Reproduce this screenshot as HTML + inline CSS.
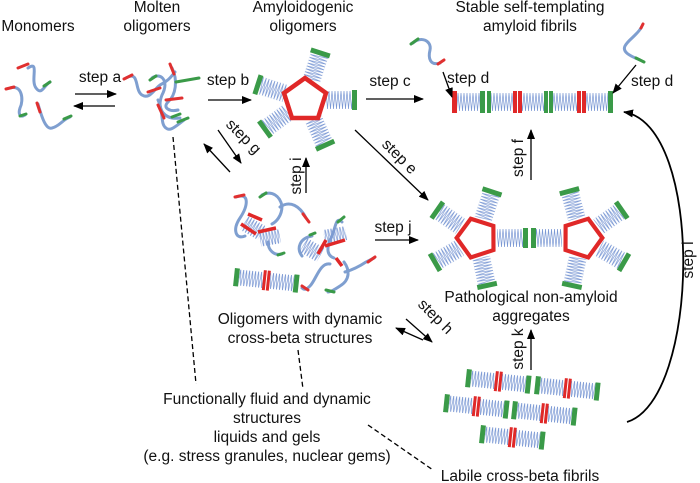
<!DOCTYPE html>
<html><head><meta charset="utf-8"><style>
html,body{margin:0;padding:0;background:#fff;}
svg{display:block}
text{font-family:"Liberation Sans",Arial,sans-serif;font-size:15.5px;fill:#111}
</style></head><body>
<svg width="700" height="483" viewBox="0 0 700 483" xmlns="http://www.w3.org/2000/svg">
<defs>
<pattern id="zz" width="3" height="18" patternUnits="userSpaceOnUse" y="-9">
<path d="M0,0 L1.5,18 L3,0" fill="none" stroke="#7a98d4" stroke-width="0.7"/>
</pattern>
<g id="arm"><rect x="0" y="-9" width="26" height="18" fill="url(#zz)"/><rect x="26" y="-10" width="5" height="20" fill="#3a9a48"/></g>
<g id="pent">
<polygon points="0,-22 21,-7 13,18 -13,18 -21,-7" fill="none" stroke="#e02828" stroke-width="4.5" stroke-linejoin="miter"/>
</g>
<g id="lab">
<rect x="0" y="-9" width="5" height="18" fill="#3a9a48"/>
<rect x="5" y="-8" width="24" height="16" fill="url(#zz)"/>
<rect x="29" y="-10" width="3" height="20" fill="#e02828"/>
<rect x="33" y="-10" width="3" height="20" fill="#e02828"/>
<rect x="36" y="-8" width="24" height="16" fill="url(#zz)"/>
<rect x="60" y="-9" width="5" height="18" fill="#3a9a48"/>
</g>
<marker id="ah" markerWidth="10" markerHeight="8" refX="9" refY="4" orient="auto" markerUnits="userSpaceOnUse">
<path d="M0,0 L10,4 L0,8 Z" fill="#000"/></marker>
</defs>

<!-- titles -->
<text x="38" y="31" text-anchor="middle">Monomers</text>
<text x="157" y="12" text-anchor="middle">Molten</text>
<text x="157" y="31" text-anchor="middle">oligomers</text>
<text x="303" y="12" text-anchor="middle">Amyloidogenic</text>
<text x="303" y="31" text-anchor="middle">oligomers</text>
<text x="530" y="12" text-anchor="middle">Stable self-templating</text>
<text x="530" y="31" text-anchor="middle">amyloid fibrils</text>

<!-- monomers -->
<g fill="none" stroke-width="3" stroke-linecap="round">
<path d="M28,68 C40,60 30,80 36,88 C42,96 44,85 50,82" stroke="#7f9fd0"/>
<path d="M18,68 L28,64" stroke="#e03030"/><path d="M44,86 L50,82" stroke="#3a9a48"/>
<path d="M10,88 C22,84 24,100 20,108 C18,114 20,118 25,115" stroke="#7f9fd0"/>
<path d="M6,89 L14,87" stroke="#e03030"/><path d="M20,116 L26,114" stroke="#3a9a48"/>
<path d="M38,104 C42,118 46,130 52,128 C60,126 62,120 70,117" stroke="#7f9fd0"/>
<path d="M37,103 L40,112" stroke="#e03030"/><path d="M64,119 L71,116" stroke="#3a9a48"/>
</g>
<!-- molten -->
<g fill="none" stroke-width="3" stroke-linecap="round">
<path d="M126,78 C140,70 134,90 142,95 C150,100 155,88 160,85 C170,80 172,75 175,72" stroke="#7f9fd0"/>
<path d="M124,79 L132,75" stroke="#e03030"/>
<path d="M152,78 C160,72 170,80 162,95 C156,110 165,120 180,118" stroke="#7f9fd0"/>
<path d="M150,80 L156,76" stroke="#3a9a48"/><path d="M172,117 L180,114" stroke="#3a9a48"/>
<path d="M172,68 C178,80 176,95 168,102 C162,108 170,112 178,110" stroke="#7f9fd0"/>
<path d="M170,64 L174,74" stroke="#e03030"/><path d="M176,82 L199,78" stroke="#3a9a48"/>
<path d="M158,100 C164,112 160,124 166,128 C170,132 176,126 184,120" stroke="#7f9fd0"/>
<path d="M148,92 L160,88" stroke="#e03030"/><path d="M166,100 L182,98" stroke="#e03030"/>
<path d="M158,105 L164,118" stroke="#e03030"/><path d="M178,122 L188,118" stroke="#3a9a48"/>
</g>

<!-- amyloidogenic pentamer -->
<g transform="translate(305,100)">
<use href="#arm" transform="rotate(-162) translate(21,0)"/>
<use href="#arm" transform="rotate(-72) translate(21,0)"/>
<use href="#arm" transform="rotate(0) translate(21,0)"/>
<use href="#arm" transform="rotate(66) translate(21,0)"/>
<use href="#arm" transform="rotate(144) translate(21,0)"/>
<use href="#pent"/>
</g>

<!-- stable fibril -->
<g transform="translate(452,102)">
<rect x="0" y="-11" width="5" height="22" fill="#e02828"/>
<rect x="5" y="-9" width="23" height="18" fill="url(#zz)"/>
<rect x="28" y="-11" width="5" height="22" fill="#3a9a48"/><rect x="35" y="-11" width="4" height="22" fill="#3a9a48"/>
<rect x="39" y="-9" width="22" height="18" fill="url(#zz)"/>
<rect x="61" y="-11" width="4" height="22" fill="#e02828"/><rect x="66" y="-11" width="4" height="22" fill="#e02828"/>
<rect x="70" y="-9" width="22" height="18" fill="url(#zz)"/>
<rect x="92" y="-11" width="4" height="22" fill="#3a9a48"/><rect x="97" y="-11" width="4" height="22" fill="#3a9a48"/>
<rect x="101" y="-9" width="24" height="18" fill="url(#zz)"/>
<rect x="125" y="-11" width="4" height="22" fill="#e02828"/><rect x="130" y="-11" width="4" height="22" fill="#e02828"/>
<rect x="134" y="-9" width="22" height="18" fill="url(#zz)"/>
<rect x="156" y="-11" width="5" height="22" fill="#3a9a48"/>
</g>
<g fill="none" stroke-width="3" stroke-linecap="round">
<path d="M413,43 C420,36 432,40 430,50 C428,58 430,66 440,63" stroke="#7f9fd0"/>
<path d="M411,44 L418,39" stroke="#3a9a48"/><path d="M438,64 L444,60" stroke="#e03030"/>
<path d="M641,28 C636,36 628,40 625,46 C622,52 630,56 640,60" stroke="#7f9fd0"/>
<path d="M641,28 L643,24" stroke="#e03030"/><path d="M636,58 L644,62" stroke="#3a9a48"/>
</g>

<!-- pathological aggregates -->
<g transform="translate(477,238)">
<use href="#arm" transform="rotate(-145) translate(20,0)"/>
<use href="#arm" transform="rotate(-72) translate(20,0)"/>
<use href="#arm" transform="rotate(0) translate(20,0)"/>
<use href="#arm" transform="rotate(78) translate(20,0)"/>
<use href="#arm" transform="rotate(150) translate(20,0)"/>
<use href="#pent" transform="rotate(-18) scale(0.92)"/>
</g>
<g transform="translate(582,238)">
<use href="#arm" transform="rotate(-35) translate(20,0)"/>
<use href="#arm" transform="rotate(-105) translate(20,0)"/>
<use href="#arm" transform="rotate(180) translate(20,0)"/>
<use href="#arm" transform="rotate(102) translate(20,0)"/>
<use href="#arm" transform="rotate(30) translate(20,0)"/>
<use href="#pent" transform="rotate(18) scale(0.92)"/>
</g>

<!-- labile fibrils -->
<use href="#lab" transform="translate(466,378) rotate(6)"/>
<use href="#lab" transform="translate(535,385) rotate(6)"/>
<use href="#lab" transform="translate(444,403) rotate(6)"/>
<use href="#lab" transform="translate(512,410) rotate(6)"/>
<use href="#lab" transform="translate(480,434) rotate(6)"/>

<!-- oligomers with dynamic cross-beta -->
<g fill="none" stroke-width="3" stroke-linecap="round">
<path d="M236,197 C250,192 248,206 240,218 C232,230 236,240 245,236" stroke="#7f9fd0"/>
<path d="M235,197 L244,195" stroke="#e03030"/>
<path d="M262,195 C272,190 280,196 282,206 C282,216 276,222 272,224" stroke="#7f9fd0"/>
<path d="M260,197 L266,193" stroke="#3a9a48"/>
<path d="M280,207 C290,200 300,206 306,218" stroke="#7f9fd0"/><path d="M303,214 L309,222" stroke="#e03030"/>
<path d="M268,242 C268,250 274,256 282,254" stroke="#7f9fd0"/><path d="M278,255 L284,253" stroke="#3a9a48"/>
<path d="M342,222 C335,215 336,230 330,240 C326,250 328,256 334,258" stroke="#7f9fd0"/><path d="M338,222 L344,217" stroke="#3a9a48"/>
<path d="M312,236 C300,238 296,248 302,256" stroke="#7f9fd0"/><path d="M310,235 L315,233" stroke="#3a9a48"/>
<path d="M330,264 C320,262 316,280 310,286 C306,290 304,290 302,288" stroke="#7f9fd0"/><path d="M302,286 L308,290" stroke="#e03030"/>
<path d="M344,262 C350,270 350,280 340,286 C334,290 330,292 328,292" stroke="#7f9fd0"/><path d="M326,290 L334,292" stroke="#3a9a48"/>
<path d="M345,272 C352,270 360,266 366,262 L374,258" stroke="#7f9fd0"/><path d="M368,262 L375,257" stroke="#e03030"/>
</g>
<g transform="translate(253,228) rotate(30)"><rect x="-10" y="-8" width="20" height="16" fill="url(#zz)"/></g>
<g transform="translate(270,238) rotate(-10)"><rect x="-10" y="-7" width="20" height="14" fill="url(#zz)"/></g>
<path d="M241,224 L256,234 M258,232 L276,228 M248,214 L262,220" stroke="#e02828" stroke-width="3.5"/>
<g transform="translate(312,250) rotate(30)"><rect x="-10" y="-8" width="20" height="16" fill="url(#zz)"/></g>
<g transform="translate(335,235) rotate(-10)"><rect x="-11" y="-7" width="22" height="14" fill="url(#zz)"/></g>
<path d="M318,254 L326,240 M325,246 L345,240 M336,258 L342,266" stroke="#e02828" stroke-width="3.5"/>
<use href="#lab" transform="translate(234,277) rotate(6)"/>

<!-- arrows -->
<g stroke="#000" stroke-width="1.3" fill="none">
<line x1="75" y1="94" x2="116" y2="94" marker-end="url(#ah)"/>
<line x1="115" y1="106" x2="74" y2="106" marker-end="url(#ah)"/>
<line x1="208" y1="100" x2="251" y2="100" marker-end="url(#ah)"/>
<line x1="366" y1="99" x2="423" y2="99" marker-end="url(#ah)"/>
<line x1="443" y1="72" x2="452" y2="97" marker-end="url(#ah)"/>
<line x1="636" y1="65" x2="613" y2="93" marker-end="url(#ah)"/>
<line x1="355" y1="130" x2="428" y2="200" marker-end="url(#ah)"/>
<line x1="531" y1="180" x2="531" y2="130" marker-end="url(#ah)"/>
<line x1="230" y1="172" x2="204" y2="144" marker-end="url(#ah)"/>
<line x1="218" y1="130" x2="241" y2="163" marker-end="url(#ah)"/>
<line x1="306" y1="193" x2="306" y2="158" marker-end="url(#ah)"/>
<line x1="375" y1="240" x2="418" y2="240" marker-end="url(#ah)"/>
<line x1="423" y1="340" x2="396" y2="328" marker-end="url(#ah)"/>
<line x1="406" y1="319" x2="432" y2="342" marker-end="url(#ah)"/>
<line x1="531" y1="370" x2="531" y2="330" marker-end="url(#ah)"/>
<path d="M627,422 C700,400 705,125 624,112" stroke-width="1.8" marker-end="url(#ah)"/>
</g>
<!-- dashed -->
<g stroke="#000" stroke-width="1.3" stroke-dasharray="5,3" fill="none">
<line x1="173" y1="137" x2="196" y2="384"/>
<line x1="298" y1="350" x2="303" y2="389"/>
<line x1="368" y1="425" x2="433" y2="470"/>
</g>

<!-- step labels -->
<text x="100" y="82" text-anchor="middle">step a</text>
<text x="228" y="85" text-anchor="middle">step b</text>
<text x="390" y="86" text-anchor="middle">step c</text>
<text x="447" y="83">step d</text>
<text x="631" y="86">step d</text>
<text transform="translate(396,160) rotate(45)" text-anchor="middle">step e</text>
<text transform="translate(523,158) rotate(-90)" text-anchor="middle">step f</text>
<text transform="translate(240,140) rotate(45)" text-anchor="middle">step g</text>
<text transform="translate(301,176) rotate(-90)" text-anchor="middle">step i</text>
<text x="393" y="232" text-anchor="middle">step j</text>
<text transform="translate(432,320) rotate(45)" text-anchor="middle">step h</text>
<text transform="translate(523,349) rotate(-90)" text-anchor="middle">step k</text>
<text transform="translate(693,260) rotate(-90)" text-anchor="middle">step l</text>

<text x="531" y="302" text-anchor="middle">Pathological non-amyloid</text>
<text x="531" y="321" text-anchor="middle">aggregates</text>
<text x="300" y="324" text-anchor="middle">Oligomers with dynamic</text>
<text x="300" y="343" text-anchor="middle">cross-beta structures</text>
<text x="267" y="404" text-anchor="middle">Functionally fluid and dynamic</text>
<text x="267" y="423" text-anchor="middle">structures</text>
<text x="267" y="442" text-anchor="middle">liquids and gels</text>
<text x="267" y="461" text-anchor="middle">(e.g. stress granules, nuclear gems)</text>
<text x="520" y="481" text-anchor="middle">Labile cross-beta fibrils</text>
</svg>
</body></html>
